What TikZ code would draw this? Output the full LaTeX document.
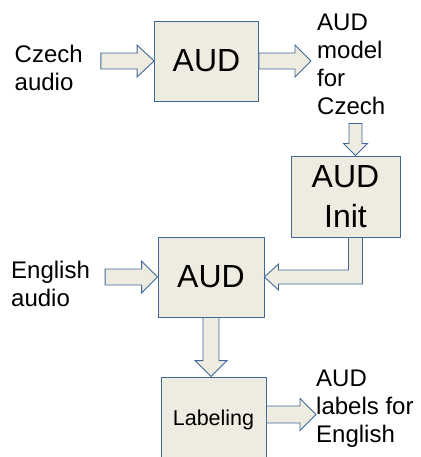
\documentclass[tikz,border=0pt]{standalone}
\usepackage{fontspec}
\setmainfont{Liberation Sans}
\usetikzlibrary{calc}
\definecolor{boxfill}{HTML}{EEECE1}
\definecolor{boxline}{HTML}{41689A}
\tikzset{
  block/.style={draw=boxline, fill=boxfill, line width=0.9pt, inner sep=0pt,
    align=center, font=\fontsize{32}{40}\selectfont},
  txt/.style={inner sep=0pt, anchor=north west, align=left,
    font=\fontsize{24}{28}\selectfont},
  flow/.style={draw=boxline, fill=boxfill, line width=0.9pt, line join=miter},
}
% block arrow pointing right: #1 start, #2 tip, #3 shaft half width,
% #4 head half width, #5 head length
\newcommand\rightflow[5]{%
  \draw[flow] ($(#1)+(0,#3)$) -- ($(#2)+(-#5,#3)$) -- ($(#2)+(-#5,#4)$) -- (#2)
    -- ($(#2)+(-#5,-#4)$) -- ($(#2)+(-#5,-#3)$) -- ($(#1)+(0,-#3)$) -- cycle;}
% block arrow pointing down (y axis runs downwards)
\newcommand\downflow[5]{%
  \draw[flow] ($(#1)+(-#3,0)$) -- ($(#2)+(-#3,-#5)$) -- ($(#2)+(-#4,-#5)$) -- (#2)
    -- ($(#2)+(#4,-#5)$) -- ($(#2)+(#3,-#5)$) -- ($(#1)+(#3,0)$) -- cycle;}
\begin{document}
\begin{tikzpicture}[x=1pt, y=-1pt]
  \useasboundingbox (0,0) rectangle (420,457);

  % processing blocks
  \node[block, minimum width=104pt, minimum height=80pt] (audA) at (206.5,61) {AUD};
  \node[block, minimum width=109pt, minimum height=81pt] (init) at (345.5,196.5) {AUD\\Init};
  \node[block, minimum width=106pt, minimum height=80pt] (audB) at (211,277) {AUD};
  \node[block, minimum width=105pt, minimum height=86pt,
        font=\fontsize{21.5}{26}\selectfont] (lab) at (213.5,420) {Labeling};

  % inputs and outputs
  \node[txt] (czech) at (14.5,44.5) {Czech\\audio};
  \node[txt] (model) at (317,14) {AUD\\model\\for\\Czech};
  \node[txt] (english) at (11,260.5) {English\\audio};
  \node[txt] (labels) at (316,370) {AUD\\labels for\\English};

  % connectors
  \coordinate (c1) at ($(czech.east |- audA.west)+(18,0)$);
  \rightflow{c1}{audA.west}{8}{16}{17}
  \coordinate (c2) at ($(model.west |- audA.east)+(-6,0)$);
  \rightflow{audA.east}{c2}{8}{16}{16}

  \coordinate (c3) at ($(init.north)+(10,-32)$);
  \coordinate (c4) at ($(init.north)+(10,0)$);
  \downflow{c3}{c4}{6.5}{12}{12}

  \draw[flow] ($(init.south)+(3,0)$) |- ($(audB.east)+(14,-7)$)
    -- ($(audB.east)+(14,-13)$) -- (audB.east) -- ($(audB.east)+(14,13)$)
    -- ($(audB.east)+(14,7)$) -| ($(init.south)+(17,0)$) -- cycle;

  \coordinate (c5) at ($(english.east |- audB.west)+(15,0)$);
  \rightflow{c5}{audB.west}{8}{16}{16}

  \coordinate (c6) at (audB.south |- lab.north);
  \downflow{audB.south}{c6}{8}{16}{16}

  \coordinate (c7) at ($(lab.east)+(0,-5.5)$);
  \coordinate (c8) at (labels.west |- c7);
  \rightflow{c7}{c8}{8.5}{16}{16}
\end{tikzpicture}
\end{document}
